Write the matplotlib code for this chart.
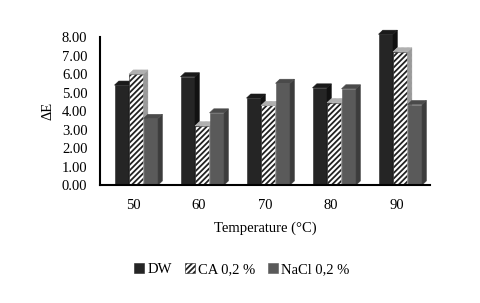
import numpy as np
import matplotlib
matplotlib.use("Agg")
import matplotlib.pyplot as plt
from matplotlib.patches import Polygon

plt.rcParams['font.family'] = ['Liberation Serif', 'DejaVu Serif']
plt.rcParams['hatch.linewidth'] = 1.3

# Data
temperatures = ["50", "60", "70", "80", "90"]
dw = [5.40, 5.85, 4.70, 5.25, 8.15]
ca = [6.00, 3.20, 4.30, 4.45, 7.20]
nacl = [3.60, 3.90, 5.50, 5.20, 4.35]
series_names = ["DW", "CA 0,2 %", "NaCl 0,2 %"]
yticks = [0, 1, 2, 3, 4, 5, 6, 7, 8]

# styles: (front, side, top, hatch)
styles = [
    ("#252525", "#111111", "#1a1a1a", None),
    ("white", "#9a9a9a", "#b0b0b0", "//////"),
    ("#5a5a5a", "#3c3c3c", "#4a4a4a", None),
]

fig = plt.figure(figsize=(4.8, 3.03), dpi=100)
ax = fig.add_axes([0.2083, 0.3894, 0.6875, 0.4884])

x = np.arange(len(temperatures))
width = 0.22
shift = 0.05
ddx = 0.065   # depth in x (data units)
ddy = 0.22    # depth in y (data units)

for i, (vals, name, st) in enumerate(zip([dw, ca, nacl], series_names, styles)):
    front, side, top, hatch = st
    pos = x + (i - 1) * width + shift
    z = 2 + i
    ax.bar(pos, vals, width=width, color=front, edgecolor="#222222" if hatch else front,
           linewidth=0.4, hatch=hatch, zorder=z, label=name, clip_on=False)
    for p, v in zip(pos, vals):
        l, r = p - width / 2, p + width / 2
        side_poly = Polygon([(r, 0), (r + ddx, ddy), (r + ddx, v + ddy), (r, v)],
                            closed=True, facecolor=side, edgecolor=side, linewidth=0.4,
                            hatch=hatch, zorder=z, clip_on=False)
        top_poly = Polygon([(l, v), (l + ddx, v + ddy), (r + ddx, v + ddy), (r, v)],
                           closed=True, facecolor=top, edgecolor=top, linewidth=0.4,
                           hatch=hatch, zorder=z, clip_on=False)
        ax.add_patch(side_poly)
        ax.add_patch(top_poly)

ax.set_xlim(-0.5, len(temperatures) - 0.5)
ax.set_ylim(0, 8)
ax.set_xticks(x)
ax.set_xticklabels(temperatures, fontsize=10.5)
ax.set_yticks(yticks)
ax.set_yticklabels([f"{t:.2f}" for t in yticks], fontsize=10.5)
ax.tick_params(axis="both", length=0)
ax.tick_params(axis="y", pad=9)
ax.tick_params(axis="x", pad=10)

for s in ["top", "right"]:
    ax.spines[s].set_visible(False)
ax.spines["left"].set_linewidth(1.5)
ax.spines["bottom"].set_linewidth(1.5)
ax.spines["left"].set_zorder(10)
ax.spines["bottom"].set_zorder(10)

ax.set_xlabel("Temperature (°C)", fontsize=10.5, labelpad=7)
ax.set_ylabel("ΔE", fontsize=10.5, labelpad=5)

leg = ax.legend(loc="upper center", bbox_to_anchor=(0.43, -0.44), ncol=3, frameon=False,
                fontsize=10.5, handlelength=0.7, handleheight=0.7, handletextpad=0.2,
                columnspacing=0.9)

fig.savefig("out.png", dpi=100)
